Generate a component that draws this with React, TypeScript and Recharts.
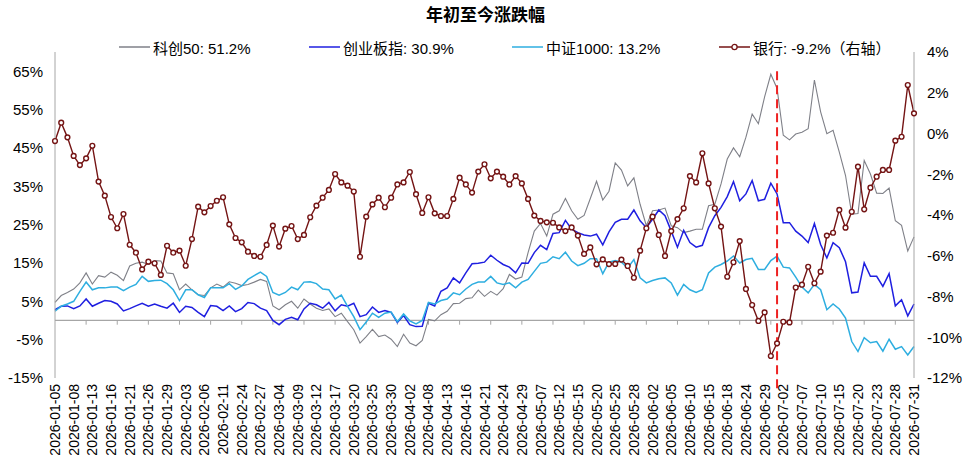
import React from 'react';
import { LineChart, Line, XAxis, YAxis, ReferenceLine } from 'recharts';

// trading days, 2026-01-05 .. 2026-07-31
const dates = [
  '2026-01-05', '2026-01-06', '2026-01-07', '2026-01-08', '2026-01-09', '2026-01-12', '2026-01-13', '2026-01-14', '2026-01-15', '2026-01-16',
  '2026-01-19', '2026-01-20', '2026-01-21', '2026-01-22', '2026-01-23', '2026-01-26', '2026-01-27', '2026-01-28', '2026-01-29', '2026-01-30',
  '2026-02-02', '2026-02-03', '2026-02-04', '2026-02-05', '2026-02-06', '2026-02-09', '2026-02-10', '2026-02-11', '2026-02-12', '2026-02-13',
  '2026-02-24', '2026-02-25', '2026-02-26', '2026-02-27',
  '2026-03-02', '2026-03-03', '2026-03-04', '2026-03-05', '2026-03-06', '2026-03-09', '2026-03-10', '2026-03-11', '2026-03-12', '2026-03-13',
  '2026-03-16', '2026-03-17', '2026-03-18', '2026-03-19', '2026-03-20', '2026-03-23', '2026-03-24', '2026-03-25', '2026-03-26', '2026-03-27',
  '2026-03-30', '2026-03-31',
  '2026-04-01', '2026-04-02', '2026-04-03', '2026-04-07', '2026-04-08', '2026-04-09', '2026-04-10', '2026-04-13', '2026-04-14', '2026-04-15',
  '2026-04-16', '2026-04-17', '2026-04-20', '2026-04-21', '2026-04-22', '2026-04-23', '2026-04-24', '2026-04-27', '2026-04-28', '2026-04-29',
  '2026-04-30',
  '2026-05-06', '2026-05-07', '2026-05-08', '2026-05-11', '2026-05-12', '2026-05-13', '2026-05-14', '2026-05-15', '2026-05-18', '2026-05-19',
  '2026-05-20', '2026-05-21', '2026-05-22', '2026-05-25', '2026-05-26', '2026-05-27', '2026-05-28', '2026-05-29',
  '2026-06-01', '2026-06-02', '2026-06-03', '2026-06-04', '2026-06-05', '2026-06-08', '2026-06-09', '2026-06-10', '2026-06-11', '2026-06-12',
  '2026-06-15', '2026-06-16', '2026-06-17', '2026-06-18', '2026-06-22', '2026-06-23', '2026-06-24', '2026-06-25', '2026-06-26', '2026-06-29',
  '2026-06-30',
  '2026-07-01', '2026-07-02', '2026-07-03', '2026-07-06', '2026-07-07', '2026-07-08', '2026-07-09', '2026-07-10', '2026-07-13', '2026-07-14',
  '2026-07-15', '2026-07-16', '2026-07-17', '2026-07-20', '2026-07-21', '2026-07-22', '2026-07-23', '2026-07-24', '2026-07-27', '2026-07-28',
  '2026-07-29', '2026-07-30', '2026-07-31',
];

// 科创50 (left axis, %)
const kc50 = [
  4.7, 6.5, 7.3, 8.2, 9.8, 12.4, 9.5, 11.7, 11.3, 12.6, 11.8, 10.4, 14.2, 14.9, 15.2, 14.6, 15.6, 15.5, 12.4, 12.2,
  8.0, 9.5, 8.0, 6.7, 6.5, 8.5, 9.5, 8.7, 10.1, 9.7, 9.1, 9.4, 10.0, 10.7, 10.2, 3.8, 2.8, 4.1, 5.0, 3.2,
  5.6, 4.3, 3.2, 2.6, 3.0, 1.0, 1.9, -0.3, -2.4, -5.9, -4.2, -2.3, -4.2, -3.8, -4.9, -6.8, -3.6, -5.9, -6.6, -5.2,
  0.3, -0.1, 1.5, 2.4, 4.4, 4.5, 5.7, 5.9, 7.9, 6.3, 7.6, 6.6, 8.3, 12.0, 10.8, 11.3, 17.7, 23.3, 25.3, 22.0,
  27.7, 28.6, 31.8, 28.6, 26.4, 27.4, 31.8, 36.3, 31.4, 33.7, 41.1, 39.2, 35.1, 37.2, 30.3, 24.7, 28.6, 28.8, 29.3, 24.7,
  24.2, 22.9, 23.3, 23.8, 23.8, 29.9, 30.3, 35.6, 42.1, 45.0, 42.7, 47.8, 53.8, 51.3, 58.3, 64.2, 60.5, 48.3, 47.1, 48.6,
  49.1, 50.0, 62.7, 54.4, 48.7, 49.6, 43.9, 37.8, 27.7, 27.9, 41.7, 38.2, 33.2, 33.1, 34.5, 26.0, 24.8, 18.1, 21.8,
];

// 创业板指 (left axis, %)
const cyb = [
  2.8, 3.7, 3.8, 3.1, 3.8, 5.6, 3.7, 4.5, 5.2, 5.0, 4.3, 2.5, 3.1, 3.8, 4.5, 3.7, 4.3, 3.7, 3.2, 4.5,
  2.1, 3.7, 3.4, 2.1, 1.0, 3.9, 3.7, 2.6, 3.8, 2.3, 3.1, 4.7, 4.4, 3.2, 2.6, 0.0, -1.1, 0.3, 0.8, 0.2,
  3.0, 4.5, 4.1, 3.2, 4.7, 2.5, 4.1, 3.7, 4.5, 1.0, 1.5, 3.5, 2.1, 2.6, 2.1, -0.5, 1.3, -1.1, -1.6, -1.5,
  4.5, 3.8, 7.6, 8.5, 11.1, 9.8, 12.4, 14.8, 14.9, 15.2, 17.0, 15.7, 14.6, 13.9, 12.4, 15.0, 14.9, 17.7, 19.6, 18.5,
  22.7, 22.9, 26.1, 23.8, 22.9, 22.3, 22.0, 22.5, 19.7, 23.1, 25.6, 26.4, 26.4, 28.8, 26.0, 24.2, 26.4, 28.8, 27.3, 23.3,
  19.1, 23.5, 20.3, 19.1, 19.6, 24.2, 27.3, 29.5, 32.3, 36.2, 31.2, 33.0, 36.5, 31.2, 31.6, 35.8, 33.0, 25.5, 25.5, 23.3,
  22.0, 20.3, 25.3, 19.8, 16.3, 20.3, 19.0, 15.3, 7.2, 7.4, 15.0, 11.5, 11.5, 8.9, 12.2, 3.8, 5.4, 1.2, 4.3,
];

// 中证1000 (left axis, %)
const zz1000 = [
  2.4, 3.7, 4.3, 5.0, 7.6, 10.0, 8.0, 8.5, 8.5, 8.7, 8.7, 7.8, 8.7, 9.4, 11.5, 10.2, 10.4, 10.5, 9.6, 8.0,
  5.2, 8.0, 8.0, 6.7, 6.0, 8.5, 8.5, 8.5, 9.6, 8.1, 9.0, 10.7, 11.7, 12.6, 11.5, 7.3, 6.6, 7.3, 8.7, 8.0,
  10.0, 10.1, 9.6, 8.2, 8.0, 5.6, 6.6, 3.7, 1.0, -2.4, -0.4, 1.9, 0.8, 1.9, 2.2, -0.3, 1.7, -0.1, -0.9, 0.0,
  4.7, 4.3, 5.2, 5.6, 7.2, 6.7, 8.2, 9.4, 10.0, 10.0, 11.5, 9.8, 9.4, 9.8, 8.5, 10.0, 10.7, 12.8, 14.9, 15.2,
  16.6, 16.1, 17.8, 15.5, 14.3, 14.9, 16.1, 16.1, 12.2, 15.2, 15.6, 15.2, 13.7, 15.9, 11.1, 9.8, 10.4, 10.9, 11.1, 9.8,
  6.6, 9.4, 8.0, 7.3, 8.0, 12.4, 13.9, 14.6, 15.5, 16.8, 15.0, 15.9, 16.2, 13.3, 13.3, 15.6, 16.8, 13.9, 13.7, 11.3,
  8.7, 7.2, 9.4, 8.0, 2.8, 4.3, 3.0, 0.6, -5.5, -8.1, -4.5, -5.8, -5.5, -8.0, -4.9, -7.5, -6.8, -9.0, -6.8,
];

// 银行 (right axis, %)
const bank = [
  -0.37, 0.53, -0.19, -1.10, -1.55, -1.22, -0.60, -2.36, -3.05, -4.10, -4.65, -3.95, -5.46, -5.85, -6.67, -6.29, -6.37, -6.94, -5.51, -5.85,
  -5.75, -6.49, -5.18, -3.59, -3.87, -3.56, -3.30, -3.13, -4.46, -5.13, -5.34, -5.80, -6.01, -6.05, -5.47, -4.52, -5.55, -4.67, -4.54, -5.18,
  -4.98, -4.11, -3.54, -3.15, -2.77, -1.99, -2.40, -2.56, -2.85, -6.05, -4.08, -3.48, -3.15, -3.62, -3.15, -2.50, -2.40, -1.89, -2.98, -3.90,
  -3.13, -3.92, -4.05, -4.05, -3.21, -2.17, -2.50, -2.90, -1.87, -1.51, -2.20, -1.87, -2.12, -2.50, -2.09, -2.45, -3.21, -4.03, -4.29, -4.36,
  -4.38, -4.61, -4.79, -4.61, -5.01, -5.91, -5.59, -6.42, -6.18, -6.41, -6.40, -6.19, -6.50, -7.08, -5.75, -4.65, -4.08, -4.98, -6.01, -4.79,
  -4.20, -3.67, -2.09, -2.40, -0.97, -2.45, -3.67, -4.57, -7.03, -6.32, -5.28, -7.63, -8.42, -9.20, -8.78, -10.92, -10.30, -9.24, -9.27, -7.56,
  -7.42, -6.54, -7.35, -6.78, -5.01, -4.87, -3.75, -4.62, -3.84, -1.63, -3.72, -2.66, -2.12, -1.79, -1.79, -0.35, -0.16, 2.38, 0.99,
];

const leftTicks = [-15, -5, 5, 15, 25, 35, 45, 55, 65];
const rightTicks = [-12, -10, -8, -6, -4, -2, 0, 2, 4];
const markerDate = '2026-07-01';

const legendItems = [
  { label: '科创50: 51.2%', color: '#7f8088', dot: false, left: 119 },
  { label: '创业板指: 30.9%', color: '#1f1fe0', dot: false, left: 309 },
  { label: '中证1000: 13.2%', color: '#2eaee0', dot: false, left: 512 },
  { label: '银行: -9.2%（右轴）', color: '#741414', dot: true, left: 719 },
];

const data = dates.map((date, i) => ({
  date,
  kc50: kc50[i],
  cyb: cyb[i],
  zz1000: zz1000[i],
  bank: bank[i],
}));

// small downward tick marks on the zero line, every 5 points
const zeroTicks = dates.filter((_, i) => i > 0 && i % 5 === 0);

const FONT = '"Liberation Sans", Arial, "Noto Sans CJK SC", sans-serif';

const DateTick = (props: any) => {
  const { x, y, payload } = props;
  const ty = y - 2;
  return (
    <text
      x={x}
      y={ty}
      transform={`rotate(-90, ${x}, ${ty})`}
      textAnchor="end"
      dominantBaseline="central"
      fontSize={14}
      fill="#000"
      fontFamily={FONT}
    >
      {payload.value}
    </text>
  );
};

const App = () => {
  return (
    <div style={{ position: 'relative', width: 971, height: 468, background: '#fff', fontFamily: FONT }}>
      <style>{'body{margin:0;}'}</style>
      <div
        style={{
          position: 'absolute', top: 4, left: 0, width: 971, textAlign: 'center',
          fontSize: 17, fontWeight: 'bold', fontFamily: '"Noto Sans CJK SC", sans-serif', lineHeight: '20px',
        }}
      >
        年初至今涨跌幅
      </div>
      {legendItems.map(item => (
        <div
          key={item.label}
          style={{
            position: 'absolute', top: 38, left: item.left, height: 18, display: 'flex', alignItems: 'center',
            fontSize: 15, whiteSpace: 'nowrap', color: '#000', zIndex: 2,
          }}
        >
          <svg width={32} height={10} style={{ marginRight: 2 }}>
            <line x1={0} y1={5} x2={31} y2={5} stroke={item.color} strokeWidth={1.5} />
            {item.dot && <circle cx={15.5} cy={5} r={2.6} fill="#fff" stroke={item.color} strokeWidth={1.3} />}
          </svg>
          <span>{item.label}</span>
        </div>
      ))}
      <LineChart
        width={971}
        height={468}
        data={data}
        margin={{ top: 52, right: 0, bottom: 0, left: 0 }}
      >
        <XAxis
          dataKey="date"
          interval={2}
          axisLine={false}
          tickLine={false}
          height={90}
          tick={<DateTick />}
        />
        <YAxis
          yAxisId="left"
          domain={[-15, 70]}
          ticks={leftTicks}
          tickFormatter={v => `${v}%`}
          width={55}
          axisLine={{ stroke: '#a6a6a6' }}
          tickLine={false}
          tickMargin={6}
          tick={{ fontSize: 15, fill: '#000', fontFamily: FONT }}
        />
        <YAxis
          yAxisId="right"
          orientation="right"
          domain={[-12, 4]}
          ticks={rightTicks}
          tickFormatter={v => `${v}%`}
          width={57}
          axisLine={{ stroke: '#a6a6a6' }}
          tickLine={false}
          tickMargin={7}
          tick={{ fontSize: 15, fill: '#000', fontFamily: FONT }}
        />
        <ReferenceLine yAxisId="left" y={0} stroke="#a6a6a6" strokeWidth={1.3} />
        {zeroTicks.map(d => (
          <ReferenceLine
            key={d}
            yAxisId="left"
            segment={[{ x: d, y: 0 }, { x: d, y: -1.1 }]}
            stroke="#a6a6a6"
            strokeWidth={1}
          />
        ))}
        <Line yAxisId="left" type="linear" dataKey="kc50" stroke="#7f8088" strokeWidth={1.1} dot={false} isAnimationActive={false} />
        <Line yAxisId="left" type="linear" dataKey="cyb" stroke="#1f1fe0" strokeWidth={1.5} dot={false} isAnimationActive={false} />
        <Line yAxisId="left" type="linear" dataKey="zz1000" stroke="#2eaee0" strokeWidth={1.5} dot={false} isAnimationActive={false} />
        <Line
          yAxisId="right"
          type="linear"
          dataKey="bank"
          stroke="#741414"
          strokeWidth={1.4}
          dot={{ r: 2.4, fill: '#fff', stroke: '#741414', strokeWidth: 1.4 }}
          isAnimationActive={false}
        />
        <ReferenceLine
          yAxisId="left"
          segment={[{ x: markerDate, y: 65 }, { x: markerDate, y: -18.5 }]}
          stroke="#ee2222"
          strokeWidth={2}
          strokeDasharray="9 5"
          ifOverflow="visible"
        />
      </LineChart>
    </div>
  );
};

export default App;
